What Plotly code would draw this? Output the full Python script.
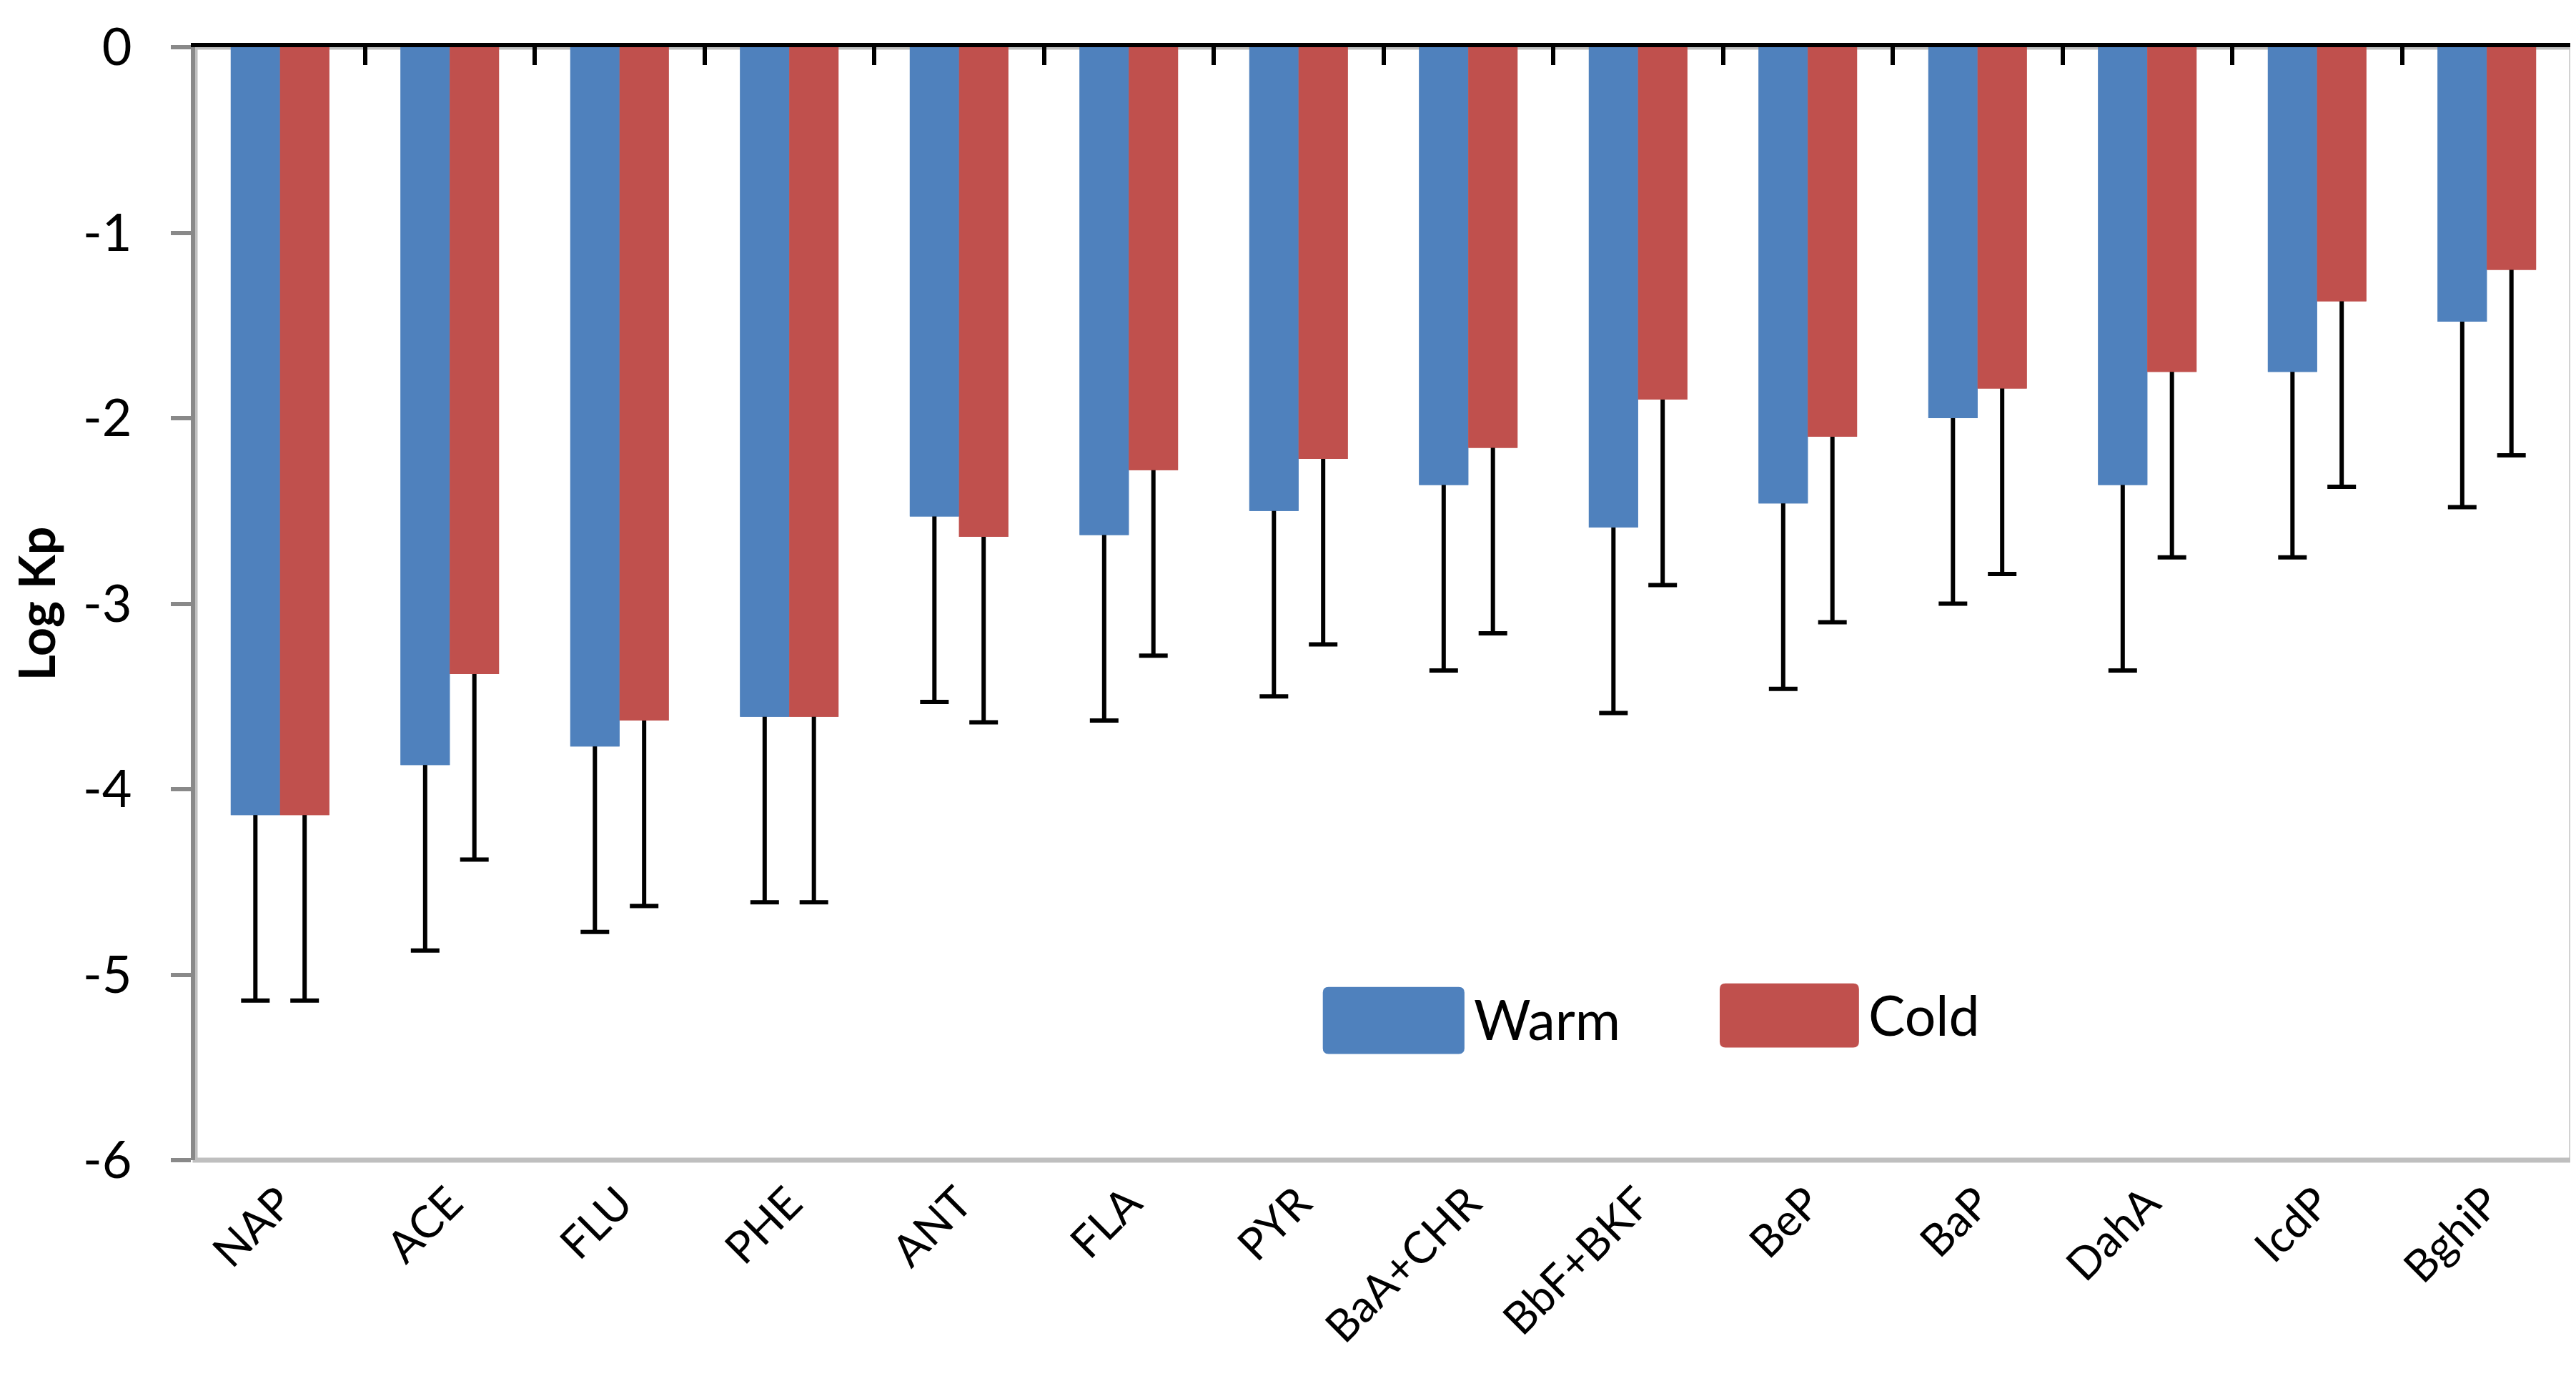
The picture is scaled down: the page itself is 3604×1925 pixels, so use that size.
import plotly.graph_objects as go

categories = ["NAP", "ACE", "FLU", "PHE", "ANT", "FLA", "PYR", "BaA+CHR",
              "BbF+BKF", "BeP", "BaP", "DahA", "IcdP", "BghiP"]
warm = [-4.14, -3.87, -3.77, -3.61, -2.53, -2.63, -2.50, -2.36, -2.59, -2.46, -2.00, -2.36, -1.75, -1.48]
cold = [-4.14, -3.38, -3.63, -3.61, -2.64, -2.28, -2.22, -2.16, -1.90, -2.10, -1.84, -1.75, -1.37, -1.20]
warm_err = [1.0] * 14
cold_err = [1.0] * 14
y_ticks = [0, -1, -2, -3, -4, -5, -6]

BLUE = "#4F81BD"
RED = "#C0504D"
FONT = "Lato"


def rounded_rect(x0, x1, y0, y1, rx=0.0024, ry=0.0051):
    return (f"M{x0 + rx},{y0} L{x1 - rx},{y0} Q{x1},{y0} {x1},{y0 + ry} "
            f"L{x1},{y1 - ry} Q{x1},{y1} {x1 - rx},{y1} L{x0 + rx},{y1} "
            f"Q{x0},{y1} {x0},{y1 - ry} L{x0},{y0 + ry} Q{x0},{y0} {x0 + rx},{y0} Z")


fig = go.Figure()
err_style = dict(type="data", symmetric=True, color="black", thickness=6, width=20)
# bars carrying the error bars (on the base subplot)
fig.add_trace(go.Bar(x=categories, y=warm, name="Warm", offsetgroup="w", marker_color=BLUE,
                     marker_line_width=0, error_y=dict(array=warm_err, **err_style), showlegend=False))
fig.add_trace(go.Bar(x=categories, y=cold, name="Cold", offsetgroup="c", marker_color=RED,
                     marker_line_width=0, error_y=dict(array=cold_err, **err_style), showlegend=False))
# same bars on the overlaying subplot: hide the upper half of the error bars
fig.add_trace(go.Bar(x=categories, y=warm, name="Warm", offsetgroup="w", marker_color=BLUE,
                     marker_line_width=0, showlegend=False, hoverinfo="skip", xaxis="x2"))
fig.add_trace(go.Bar(x=categories, y=cold, name="Cold", offsetgroup="c", marker_color=RED,
                     marker_line_width=0, showlegend=False, hoverinfo="skip", xaxis="x2"))

fig.update_layout(
    width=3604, height=1925,
    margin=dict(l=265, r=14, t=53, b=310),
    paper_bgcolor="white", plot_bgcolor="white",
    barmode="group", bargap=0.42, bargroupgap=0,
    font=dict(family=FONT, color="black", size=64),
    showlegend=False,
    xaxis=dict(type="category", categoryorder="array", categoryarray=categories,
               range=[-0.5, 13.5], showline=False, ticks="", showgrid=False,
               tickangle=-45, tickfont=dict(size=62, family=FONT), ticklabelstandoff=10),
    xaxis2=dict(type="category", categoryorder="array", categoryarray=categories,
                overlaying="x", side="top", anchor="y", range=[-0.5, 13.5], showgrid=False,
                zeroline=False, showline=True, linecolor="black", linewidth=6,
                ticks="inside", tickson="boundaries", ticklen=25, tickwidth=6, tickcolor="black",
                showticklabels=False),
    yaxis=dict(range=[-6, 0], tickvals=y_ticks, ticktext=[str(v) for v in y_ticks],
               showgrid=False, zeroline=False, showline=True, linecolor="#898989", linewidth=6,
               ticks="outside", ticklen=28, tickwidth=6, tickcolor="#898989",
               tickfont=dict(size=72, family=FONT), ticklabelstandoff=40,
               title=dict(text="<b>Log Kp</b>", font=dict(size=70, family=FONT), standoff=30)),
    shapes=[
        dict(type="rect", xref="paper", yref="paper", x0=0, x1=1, y0=0, y1=1,
             line=dict(color="#BFBFBF", width=7), layer="below"),
        dict(type="path", xref="paper", yref="paper", path=rounded_rect(0.4745, 0.5341, 0.0954, 0.1556),
             fillcolor=BLUE, line=dict(width=0)),
        dict(type="path", xref="paper", yref="paper", path=rounded_rect(0.6415, 0.7001, 0.1012, 0.1588),
             fillcolor=RED, line=dict(width=0)),
    ],
    annotations=[
        dict(text="Warm", xref="paper", yref="paper", x=0.5375, y=0.127, xanchor="left",
             yanchor="middle", showarrow=False, font=dict(size=77, family=FONT)),
        dict(text="Cold", xref="paper", yref="paper", x=0.7035, y=0.131, xanchor="left",
             yanchor="middle", showarrow=False, font=dict(size=77, family=FONT)),
    ],
)

fig.write_html("out.html")
